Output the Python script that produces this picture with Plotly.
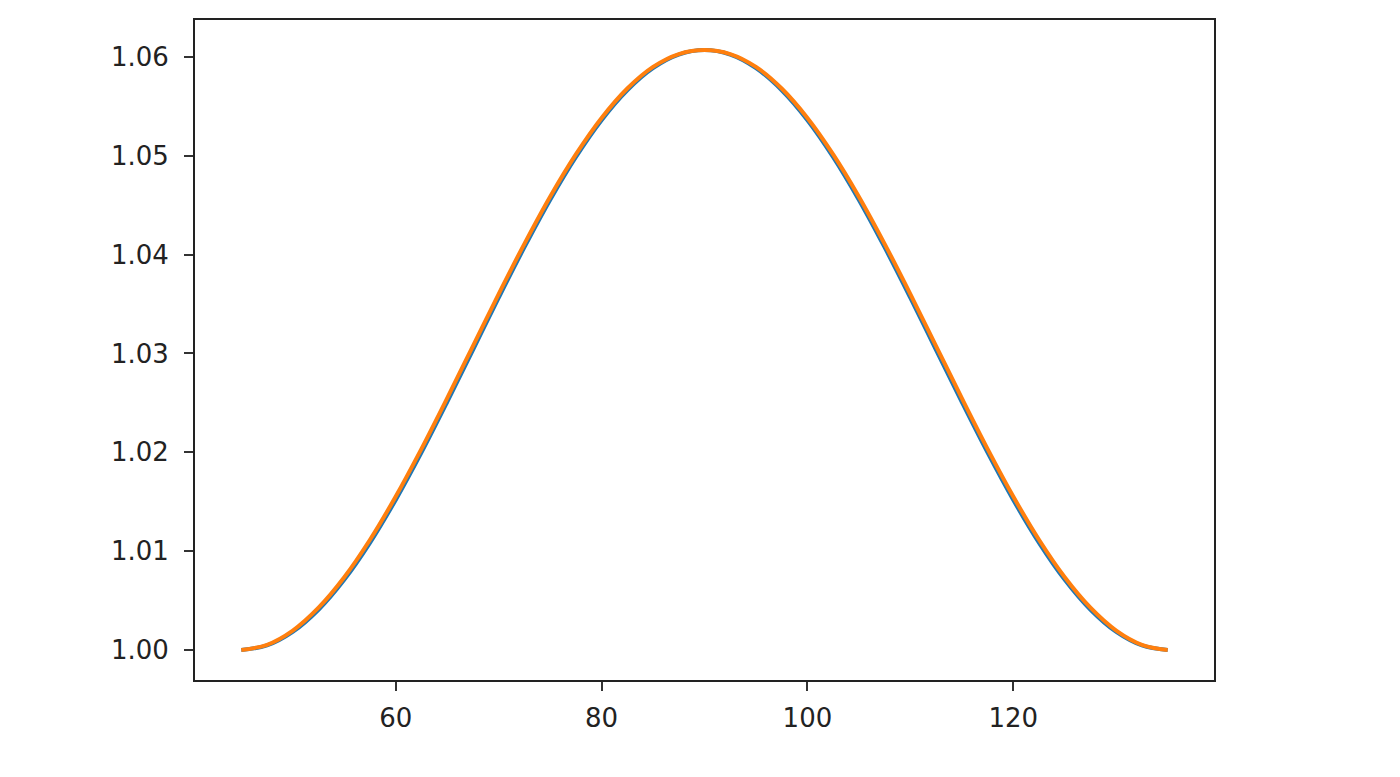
import plotly.graph_objects as go

# angle values (degrees)
x_vals = [45.0, 47.5, 50.0, 52.5, 55.0, 57.5, 60.0, 62.5, 65.0, 67.5, 70.0, 72.5,
          75.0, 77.5, 80.0, 82.5, 85.0, 87.5, 90.0, 92.5, 95.0, 97.5, 100.0, 102.5,
          105.0, 107.5, 110.0, 112.5, 115.0, 117.5, 120.0, 122.5, 125.0, 127.5,
          130.0, 132.5, 135.0]

blue_vals = [1.00000, 1.00046, 1.00183, 1.00407, 1.00710, 1.01084, 1.01518, 1.01997,
             1.02508, 1.03035, 1.03562, 1.04073, 1.04553, 1.04986, 1.05360, 1.05663,
             1.05887, 1.06024, 1.06070, 1.06024, 1.05887, 1.05663, 1.05360, 1.04986,
             1.04553, 1.04073, 1.03562, 1.03035, 1.02508, 1.01997, 1.01518, 1.01084,
             1.00710, 1.00407, 1.00183, 1.00046, 1.00000]

orange_vals = [1.00000, 1.00053, 1.00197, 1.00428, 1.00736, 1.01115, 1.01553, 1.02035,
               1.02548, 1.03075, 1.03601, 1.04109, 1.04586, 1.05014, 1.05383, 1.05681,
               1.05899, 1.06029, 1.06070, 1.06029, 1.05899, 1.05681, 1.05383, 1.05014,
               1.04586, 1.04109, 1.03601, 1.03075, 1.02548, 1.02035, 1.01553, 1.01115,
               1.00736, 1.00428, 1.00197, 1.00053, 1.00000]

x_ticks = [60, 80, 100, 120]
y_ticks = [1.00, 1.01, 1.02, 1.03, 1.04, 1.05, 1.06]
y_tick_text = ["1.00", "1.01", "1.02", "1.03", "1.04", "1.05", "1.06"]

fig = go.Figure()
fig.add_trace(go.Scatter(x=x_vals, y=blue_vals, mode="lines",
                         line=dict(color="#1f77b4", width=4, shape="spline"),
                         showlegend=False, hoverinfo="skip"))
fig.add_trace(go.Scatter(x=x_vals, y=orange_vals, mode="lines",
                         line=dict(color="#ff7f0e", width=4, shape="spline"),
                         showlegend=False, hoverinfo="skip"))

axis_common = dict(showgrid=False, zeroline=False, showline=True, mirror=True,
                   linecolor="#222222", linewidth=2, ticks="outside", ticklen=9,
                   tickwidth=2, tickcolor="#333333",
                   tickfont=dict(family="DejaVu Sans", size=26, color="#222222"))

fig.update_xaxes(range=[40.5, 139.5], tickvals=x_ticks,
                 ticktext=[str(t) for t in x_ticks], ticklabelstandoff=5,
                 **axis_common)
fig.update_yaxes(range=[0.996965, 1.063735], tickvals=y_ticks,
                 ticktext=y_tick_text, ticklabelstandoff=10, **axis_common)

fig.update_layout(width=1400, height=777,
                  margin=dict(l=187, r=194, t=10, b=105),
                  paper_bgcolor="white", plot_bgcolor="white")

fig.write_html("out.html")
